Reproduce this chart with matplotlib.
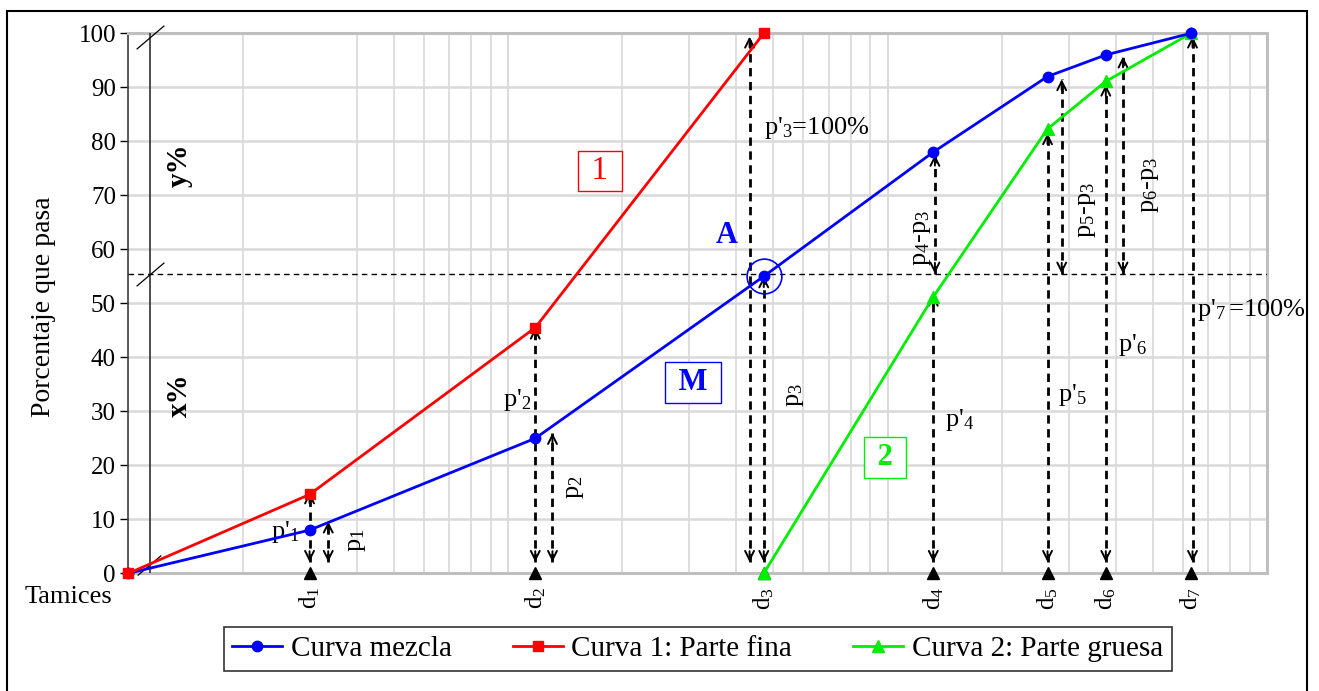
import matplotlib
matplotlib.use("Agg")
import matplotlib.pyplot as plt
from matplotlib.patches import Rectangle
from matplotlib.path import Path
from matplotlib.ticker import FixedLocator, NullFormatter
import matplotlib.transforms as mtransforms

plt.rcParams['font.family'] = ['Liberation Serif', 'DejaVu Serif']
plt.rcParams['mathtext.fontset'] = 'custom'
plt.rcParams['mathtext.rm'] = 'Liberation Serif'
plt.rcParams['mathtext.it'] = 'Liberation Serif:italic'
plt.rcParams['mathtext.bf'] = 'Liberation Serif:bold'
plt.rcParams['mathtext.default'] = 'regular'

# sieve sizes (log axis), first point is the axis origin
x_min, x_max = 0.05, 50
tamices = [0.15, 0.59, 2.36, 6.6, 13.2, 18.8, 31.5]
tamiz_labels = ['d$_1$', 'd$_2$', 'd$_3$', 'd$_4$', 'd$_5$', 'd$_6$', 'd$_7$']

# percent passing
mezcla_x = [x_min] + tamices
mezcla_y = [0, 8, 25, 55, 78, 92, 96, 100]
fina_x = [x_min] + tamices[:3]
fina_y = [0, 14.6, 45.5, 100]
gruesa_x = tamices[2:]
gruesa_y = [0, 51.2, 82.3, 91.1, 100]
corte = 55.5  # level of point A

# dashed arrows: (x, y bottom, y top)
flechas = [
    (tamices[0], 2.1, 15.0),
    (tamices[0] * 1.12, 2.1, 9.6),
    (tamices[1], 2.1, 45.5),
    (tamices[1] * 1.11, 2.1, 26.0),
    (tamices[2] / 1.09, 2.1, 99.4),
    (tamices[2], 2.1, 55.0),
    (tamices[3], 2.1, 51.6),
    (tamices[4], 2.1, 81.5),
    (tamices[5], 2.1, 90.5),
    (tamices[6] * 1.01, 2.1, 99.4),
    (tamices[3] * 1.01, corte, 77.5),
    (tamices[4] * 1.09, corte, 91.5),
    (tamices[5] * 1.11, corte, 95.7),
]

# labels: (text, x, y, rotation, ha)
etiquetas = [
    ("p'$_1$", 0.141, 7.6, 0, 'right'),
    ("p$_1$", 0.20, 6.2, 90, 'center'),
    ("p'$_2$", 0.577, 32.1, 0, 'right'),
    ("p$_2$", 0.75, 16.0, 90, 'center'),
    ("p'$_3$=100%", 2.37, 82.4, 0, 'left'),
    ("p$_3$", 2.85, 33.0, 90, 'center'),
    ("p'$_4$", 7.09, 28.4, 0, 'left'),
    ("p$_4$-p$_3$", 6.16, 62.1, 90, 'center'),
    ("p'$_5$", 14.06, 33.0, 0, 'left'),
    ("p$_5$-p$_3$", 16.8, 67.3, 90, 'center'),
    ("p'$_6$", 20.25, 42.3, 0, 'left'),
    ("p$_6$-p$_3$", 24.6, 71.9, 90, 'center'),
    ("p'$_7\\,$=100%", 32.6, 48.8, 0, 'left'),
]


def flecha(ax, x, y0, y1):
    ax.plot([x, x], [y0, y1], color='k', lw=2.0, ls=(0, (3, 2)), zorder=4)
    for ya, yb in ((y0, y0 + 2), (y1, y1 - 2)):
        ax.annotate('', xy=(x, ya), xytext=(x, yb),
                    arrowprops=dict(arrowstyle='->', color='k', lw=1.4,
                                    mutation_scale=16, shrinkA=0, shrinkB=0),
                    zorder=4)


fig = plt.figure(figsize=(13.19, 6.91), dpi=100)
ax = fig.add_axes([0.0974, 0.1703, 0.8632, 0.7815])

ax.set_xscale('log')
ax.set_xlim(x_min, x_max)
ax.set_ylim(0, 100)

# grid: Excel style log grid, multiples of the axis minimum
grid_x = [k * x_min * 10 ** n for n in range(3) for k in range(1, 11)]
ax.xaxis.set_major_locator(FixedLocator(tamices))
ax.xaxis.set_major_formatter(NullFormatter())
ax.xaxis.set_minor_locator(FixedLocator(grid_x))
ax.xaxis.set_minor_formatter(NullFormatter())
ax.tick_params(axis='x', which='both', length=0)
ax.xaxis.grid(True, which='minor', color='#d9d9d9', lw=1.2)
ax.xaxis.grid(False, which='major')
ax.set_yticks(range(0, 101, 10))
ax.yaxis.grid(True, color='#d9d9d9', lw=1.8)
ax.tick_params(axis='y', labelsize=18, length=6, width=1, direction='out', pad=3)
ax.set_axisbelow(True)

for s in ['top', 'right', 'bottom']:
    ax.spines[s].set_color('#bfbfbf')
    ax.spines[s].set_linewidth(2.2)
ax.spines['left'].set_color('#404040')
ax.spines['left'].set_linewidth(1.2)

ax.set_ylabel('Porcentaje que pasa', fontsize=20)
ax.yaxis.set_label_coords(-0.0637, 0.493)

# reference lines
ax.axhline(corte, color='k', lw=1, ls=(0, (4, 3)), zorder=3)
x_barra = 0.057
ax.plot([x_barra, x_barra], [0, 100], color='#303030', lw=1.2, zorder=3)
slash = Path([(-1, -0.85), (1, 0.85)], [Path.MOVETO, Path.LINETO])
ax.plot([x_barra, x_barra], [99.3, corte], marker=slash, ms=20, mew=0.9,
        color='k', ls='none', zorder=6, clip_on=False)
ax.plot([x_barra * 0.995], [1.6], marker=slash, ms=17, mew=0.9,
        color='k', ls='none', zorder=6, clip_on=False)
ax.text(0.068, 75.6, 'y%', rotation=90, fontsize=21, fontweight='bold',
        ha='center', va='center')
ax.text(0.068, 33, 'x%', rotation=90, fontsize=21, fontweight='bold',
        ha='center', va='center')

# arrows and labels
for fx, y0, y1 in flechas:
    flecha(ax, fx, y0, y1)
for txt, tx, ty, rot, ha in etiquetas:
    ax.text(tx, ty, txt, fontsize=19, rotation=rot, ha=ha, va='center', zorder=5)

# sieve markers on the x axis
ax.plot(tamices, [0] * len(tamices), '^', color='k', ms=9, clip_on=False, zorder=5)
trans = mtransforms.blended_transform_factory(ax.transData, ax.transAxes)
for xt, lab in zip(tamices, tamiz_labels):
    ax.text(xt, -0.046, lab, transform=trans, rotation=90, fontsize=18,
            ha='center', va='center')
ax.text(-0.0145, -0.055, 'Tamices', transform=ax.transAxes, fontsize=19,
        ha='right', va='baseline')

# curves
ax.plot(gruesa_x, gruesa_y, color='#00ee00', lw=2, marker='^', ms=8,
        label='Curva 2: Parte gruesa', clip_on=False, zorder=7)
ax.plot(mezcla_x, mezcla_y, color='#0000ff', lw=2, marker='o', ms=7.5,
        label='Curva mezcla', clip_on=False, zorder=8)
ax.plot(fina_x, fina_y, color='#ff0000', lw=2, marker='s', ms=7.5,
        label='Curva 1: Parte fina', clip_on=False, zorder=9)

# point A
ax.plot([tamices[2]], [mezcla_y[3]], 'o', ms=25, mfc='none', mec='#0000ff',
        mew=1.2, zorder=8)
ax.text(1.89, 62.5, 'A', fontsize=22, fontweight='bold', color='#0000ff',
        ha='center', va='center')

# curve tags
ax.text(0.873, 74.5, ' 1 ', fontsize=24, color='#ff0000', ha='center',
        va='center', bbox=dict(boxstyle='square,pad=0.15', fc='white', ec='#ff0000', lw=1))
ax.text(1.535, 35.4, ' M ', fontsize=22, fontweight='bold', color='#0000ff',
        ha='center', va='center',
        bbox=dict(boxstyle='square,pad=0.2', fc='white', ec='#0000ff', lw=1))
ax.text(4.92, 21.5, ' 2 ', fontsize=22, fontweight='bold', color='#00ee00',
        ha='center', va='center',
        bbox=dict(boxstyle='square,pad=0.2', fc='white', ec='#00ee00', lw=1))

# legend
h, l = ax.get_legend_handles_labels()
order = [1, 2, 0]
leg = fig.legend([h[i] for i in order], [l[i] for i in order], loc='center',
                 bbox_to_anchor=(0.529, 0.061), ncol=3, fontsize=21,
                 frameon=True, fancybox=False, edgecolor='k',
                 handlelength=1.7, columnspacing=2.1, handletextpad=0.3,
                 borderpad=0.3)
leg.get_frame().set_linewidth(1.2)

# outer frame
fig.patches.append(Rectangle((0.0055, -0.01), 0.9852, 0.9945, transform=fig.transFigure,
                             fill=False, ec='k', lw=1.5))

fig.savefig('out.png', dpi=100)
